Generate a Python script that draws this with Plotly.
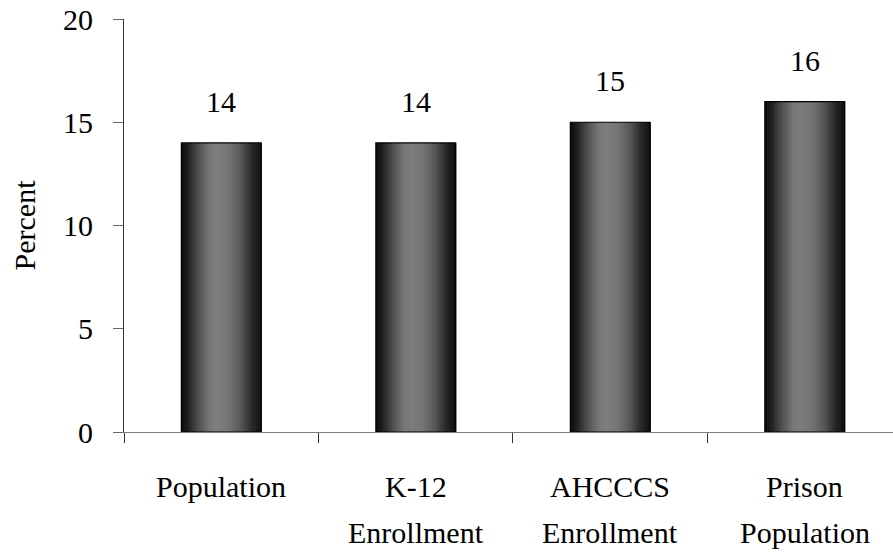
import plotly.graph_objects as go
import numpy as np

label_lines = [["Population"], ["K-12", "Enrollment"], ["AHCCCS", "Enrollment"], ["Prison", "Population"]]
categories = [" ".join(lines) for lines in label_lines]
values = [14, 14, 15, 16]
y_ticks = [0, 5, 10, 15, 20]

FONT = "Liberation Serif, Times New Roman, serif"
BAR_W = 0.41
N_STRIPS = 40

# horizontal shading profile across each bar (position, grey level)
shade_pos = [0.0, 0.08, 0.2, 0.35, 0.45, 0.6, 0.75, 0.88, 1.0]
shade_lvl = [12, 30, 75, 118, 125, 115, 85, 40, 14]

fig = go.Figure()

strip_w = BAR_W / N_STRIPS
for i in range(N_STRIPS):
    t = (i + 0.5) / N_STRIPS
    g = int(round(np.interp(t, shade_pos, shade_lvl)))
    fig.add_trace(go.Bar(
        x=categories, y=values,
        width=strip_w * 1.35,
        offset=-BAR_W / 2 + i * strip_w,
        marker=dict(color=f"rgb({g},{g},{g})", line=dict(width=0)),
        showlegend=False, hoverinfo="skip",
    ))

# bar outlines
fig.add_trace(go.Bar(
    x=categories, y=values, width=BAR_W,
    marker=dict(color="rgba(0,0,0,0)", line=dict(color="black", width=1.2)),
    showlegend=False, hoverinfo="skip",
))

# value labels above bars
for c, v in zip(categories, values):
    fig.add_annotation(x=c, y=v, text=str(v), showarrow=False,
                       yanchor="bottom", yshift=23,
                       font=dict(family=FONT, size=30, color="black"))

# category labels, one annotation per line for wider line spacing
for c, lines in zip(categories, label_lines):
    for k, line in enumerate(lines):
        fig.add_annotation(x=c, xref="x", y=0, yref="paper", text=line,
                           showarrow=False, yanchor="top", yshift=-36 - 46 * k,
                           font=dict(family=FONT, size=30, color="black"))

fig.update_layout(
    width=893, height=555,
    margin=dict(l=124, r=0, t=19, b=123),
    paper_bgcolor="white", plot_bgcolor="white",
    barmode="overlay",
    font=dict(family=FONT, size=30, color="black"),
)

fig.update_xaxes(
    type="category",
    range=[-0.5, 3.454],
    tickson="boundaries",
    ticks="outside", ticklen=10, tickcolor="#333333", tickwidth=1,
    showline=True, linecolor="#808080", linewidth=1,
    showgrid=False, zeroline=False,
    showticklabels=False,
)

fig.update_yaxes(
    range=[0, 20],
    tickvals=y_ticks,
    ticks="outside", ticklen=10, tickcolor="#666666", tickwidth=1,
    showline=True, linecolor="#333333", linewidth=1,
    showgrid=False, zeroline=False,
    tickfont=dict(family=FONT, size=30, color="black"),
    ticklabelstandoff=14,
    title=dict(text="Percent", font=dict(family=FONT, size=30, color="black"), standoff=18),
)

fig.write_html("out.html")
